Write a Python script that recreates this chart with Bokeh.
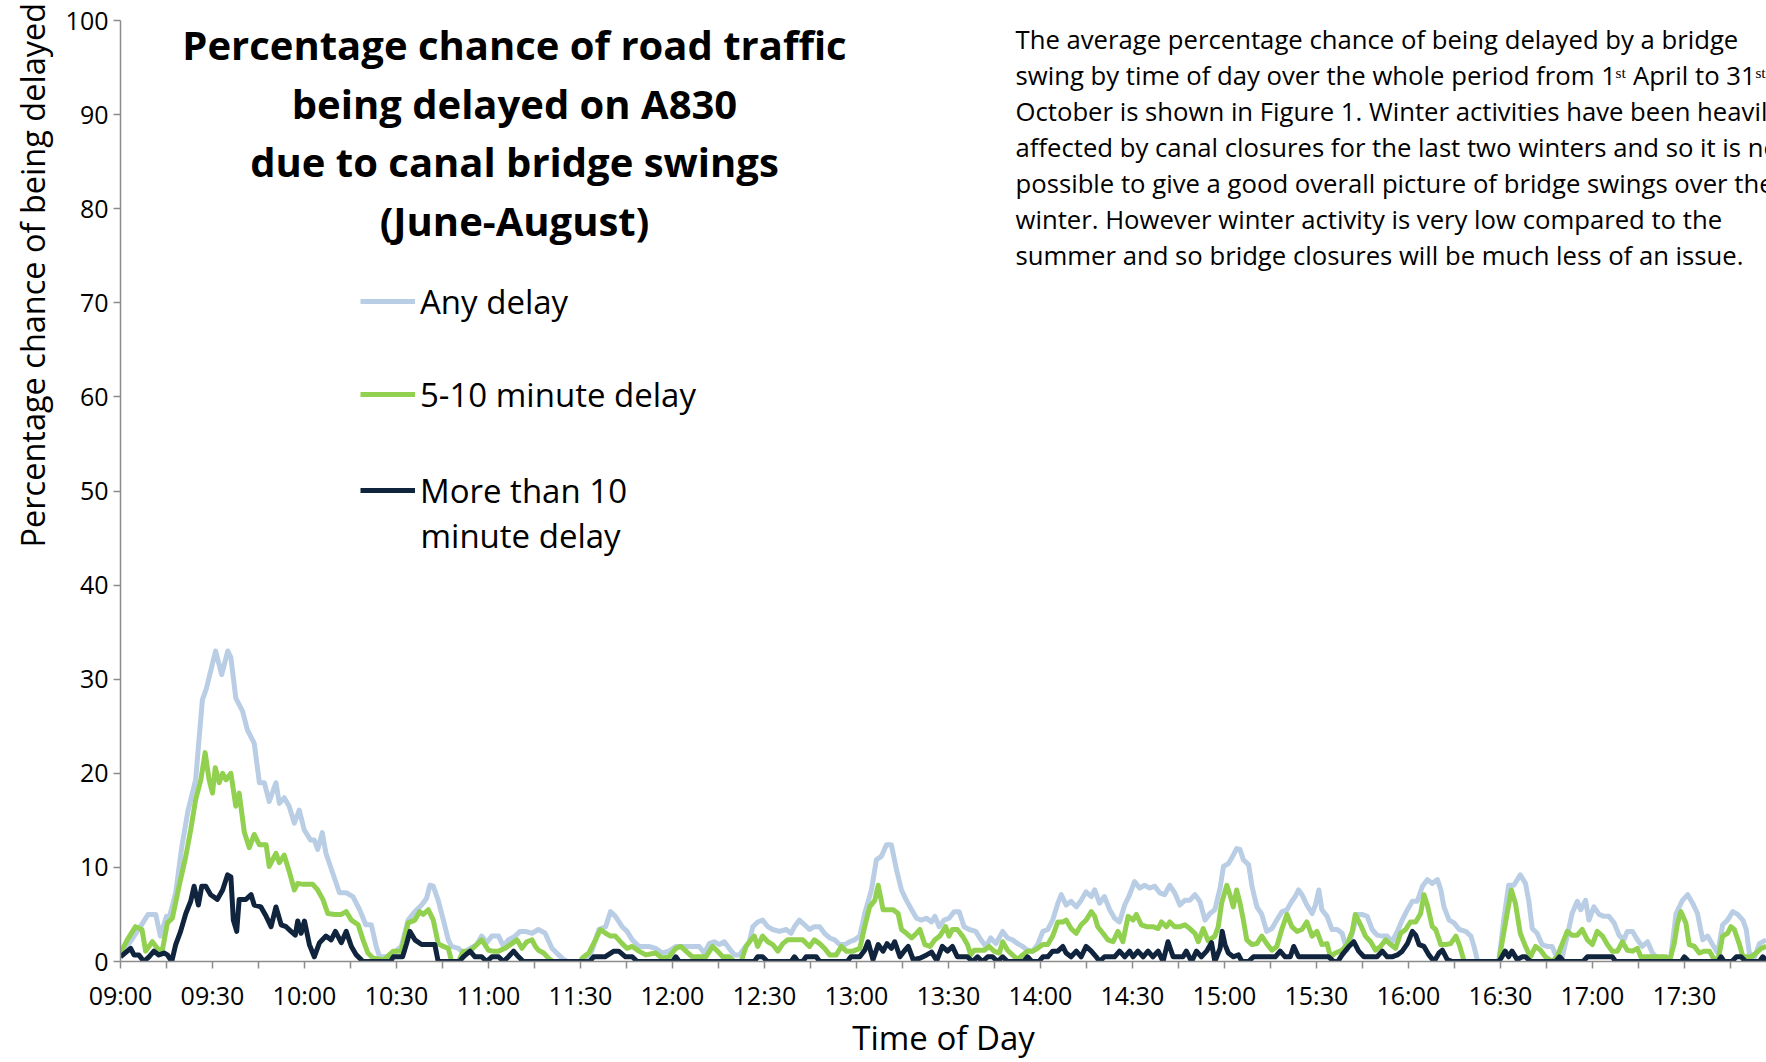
import math
from bokeh.plotting import figure
from bokeh.models import FixedTicker, Label, Legend, LegendItem, Title
from bokeh.embed import file_html
from bokeh.resources import INLINE

# ---------------- data (minutes after 09:00, percent) ----------------
any_t = [0, 3, 6.5, 9, 11.5, 13, 15, 16, 18, 20,
         22, 24.5, 26.7, 28, 29.5, 31, 33, 35, 36, 37.6,
         39.8, 41.4, 43.6, 45.3, 46.9, 48.5, 50.7, 51.8, 53.4, 55,
         56.7, 58.3, 59.9, 62, 63.2, 64.3, 65.8, 67, 69.2, 71.4,
         73.6, 75.8, 78, 80, 81.8, 83.4, 84.5, 86.7, 88.4, 91.6,
         93.8, 96, 98.2, 99.8, 100.9, 102, 103.6, 105.3, 106.9, 108,
         110.2, 111.8, 114, 116.2, 117.8, 119.4, 121.1, 123.3, 124.9, 126.5,
         128.7, 130.3, 132, 134.2, 136.3, 138.5, 140.7, 142.9, 144.5, 146,
         152, 153.8, 156, 158.2, 159.8, 161.4, 163.6, 165.2, 166.9, 169.1,
         172.3, 174.5, 176.7, 178.9, 181.1, 183.3, 186.5, 188.7, 190.4, 192,
         193.6, 195.3, 196.9, 198.5, 200.2, 201.8, 203.4, 205.1, 206.2, 207.8,
         209.4, 211.1, 212.7, 214.9, 217.1, 218.7, 219.8, 221.4, 223.1, 224.7,
         226.3, 228, 229.6, 231.3, 232.9, 234.5, 236.2, 237.8, 239.4, 241.1,
         242.7, 244.9, 246.5, 248.2, 249.8, 251.4, 253.1, 254.7, 256.3, 258,
         259.6, 261.2, 262.9, 264.5, 265.6, 267, 268.6, 270.2, 271.9, 273.5,
         275.1, 276.8, 278.9, 280.6, 282.2, 283.8, 285.5, 287.7, 289.3, 290.9,
         292.6, 294.2, 295.8, 297.5, 299.1, 300.8, 302.4, 304, 305.7, 306.8,
         308.4, 310, 311.7, 313.3, 314.9, 316.6, 317.7, 319.3, 320.9, 322.6,
         324.2, 325.8, 327.5, 329.1, 330.7, 332.4, 334, 335.6, 337.3, 338.9,
         340.5, 342.2, 343.8, 345.5, 347.1, 348.7, 350.4, 352, 353.7, 355.3,
         356.9, 358.6, 359.7, 361.3, 362.9, 364, 365.1, 366.2, 367.9, 369,
         370.6, 372.2, 373.8, 375.5, 377.1, 378.8, 380.4, 382, 383.1, 384.2,
         385.3, 386.9, 388.6, 389.7, 390.8, 391.8, 393.5, 395.1, 396.8, 398.4,
         400, 401.7, 403.3, 404.9, 406.6, 408.2, 409.8, 411.5, 413.1, 414.7,
         416.4, 418, 419.7, 421.3, 422.9, 424.6, 426.2, 427.8, 429.5, 430.6,
         431.6, 433.3, 434.9, 436.6, 438.7, 440.4, 441.5, 442.6, 449.5, 451.1,
         452.7, 454.4, 456.5, 458.2, 459.3, 460.4, 462, 463.6, 465.3, 466.9,
         468.5, 470.2, 471.8, 473.4, 475.1, 476.2, 477.8, 478.9, 480.5, 482.2,
         483.8, 485.4, 487.1, 488.7, 490.3, 491.4, 493.1, 494.7, 496.3, 498,
         499.6, 501.3, 502.9, 504, 505.6, 507.3, 509.4, 511.1, 512.7, 514.3,
         516, 517.6, 519.2, 520.9, 522.5, 524.1, 525.8, 527.4, 529.1, 530.2,
         531.2, 532.9, 534.5, 536.7]
any_v = [1.1, 2.0, 3.7, 5.0, 5.0, 2.7, 4.8, 4.8, 7.3, 12.2,
         16.0, 19.3, 27.8, 29.0, 31.0, 33.0, 30.5, 33.0, 32.3, 28.0,
         26.6, 24.6, 23.2, 19.0, 19.0, 17.0, 19.0, 16.8, 17.4, 16.5,
         14.7, 16.1, 14.0, 12.9, 12.9, 11.9, 13.7, 11.5, 9.4, 7.3,
         7.3, 6.9, 5.5, 3.9, 3.9, 1.6, 0.5, 0.5, 0.7, 1.6,
         4.4, 5.3, 6.0, 6.7, 8.1, 8.0, 6.5, 4.4, 2.3, 1.6,
         1.4, 0.9, 1.4, 1.8, 2.7, 2.0, 2.7, 2.7, 1.6, 2.3,
         2.7, 3.2, 3.2, 3.0, 3.4, 3.0, 1.4, 0.7, 0.2, 0.0,
         0.0, 1.2, 3.4, 3.7, 5.3, 4.8, 3.7, 3.2, 2.3, 1.6,
         1.6, 1.4, 0.9, 1.1, 1.6, 1.6, 1.6, 1.6, 0.9, 1.9,
         2.1, 1.8, 2.1, 1.4, 0.7, 0.7, 1.4, 2.1, 3.7, 4.2,
         4.4, 3.7, 3.4, 3.2, 3.4, 3.0, 3.7, 4.4, 3.9, 3.4,
         3.7, 3.7, 3.0, 2.5, 2.3, 1.8, 1.8, 2.1, 2.3, 2.7,
         5.1, 7.6, 10.8, 11.2, 12.4, 12.4, 9.7, 7.6, 6.5, 5.5,
         4.6, 4.4, 4.6, 4.2, 4.8, 3.7, 4.4, 4.6, 5.3, 5.3,
         3.7, 3.4, 3.2, 2.3, 1.6, 2.5, 1.9, 3.2, 2.5, 2.3,
         1.9, 1.6, 1.2, 1.1, 1.8, 3.2, 3.4, 4.4, 6.2, 7.1,
         6.0, 6.4, 5.8, 6.5, 7.4, 6.9, 7.6, 6.2, 6.9, 5.5,
         4.6, 4.2, 6.0, 7.1, 8.5, 7.8, 8.1, 7.8, 8.0, 7.3,
         7.1, 8.1, 7.3, 6.0, 6.5, 6.5, 7.1, 6.4, 4.4, 5.1,
         5.5, 7.8, 10.1, 10.4, 11.3, 12.0, 11.9, 10.8, 10.3, 8.0,
         5.8, 5.0, 3.2, 3.5, 4.4, 5.3, 5.5, 6.4, 6.9, 7.6,
         7.1, 6.0, 5.1, 6.0, 7.6, 5.5, 4.8, 3.4, 3.4, 3.0,
         1.2, 3.0, 5.0, 5.0, 4.8, 3.4, 2.8, 2.7, 2.7, 2.1,
         3.2, 4.4, 5.5, 6.4, 6.4, 8.0, 8.7, 8.3, 8.7, 7.6,
         5.8, 4.4, 4.1, 3.4, 3.2, 2.7, 1.5, 0.0, 0.0, 4.4,
         8.1, 8.1, 9.2, 8.3, 6.4, 3.5, 3.0, 1.8, 1.6, 1.6,
         0.35, 0.5, 2.7, 5.1, 6.4, 5.5, 6.5, 4.4, 5.8, 5.0,
         4.8, 4.8, 4.1, 2.8, 2.3, 3.2, 3.2, 2.3, 1.6, 2.1,
         0.9, 0.35, 0.5, 0.0, 0.5, 5.1, 6.5, 7.1, 6.2, 5.1,
         2.3, 2.7, 1.8, 0.9, 3.9, 4.4, 5.3, 5.0, 4.4, 3.4,
         0.9, 0.5, 1.9, 2.3]

mid_t = [0, 2.2, 4.9, 7, 8.2, 10.4, 12, 13.6, 15.3, 16.9,
         19.1, 21.3, 22.9, 24.5, 26.2, 27.6, 28.9, 30, 30.9, 32.2,
         33.3, 34.4, 36, 37.6, 38.7, 40.4, 42, 43.6, 45.3, 47.5,
         48.5, 50.7, 51.8, 53.4, 55, 56.7, 57.8, 59.5, 61.1, 62.7,
         64.3, 66, 67.6, 69.8, 72, 73.6, 75.3, 77.5, 79.1, 80.7,
         82.4, 86, 89, 91.6, 93.8, 96, 97.6, 98.7, 100.4, 102,
         103.6, 105.3, 106.9, 108, 110.2, 111.8, 114, 116.2, 117.8, 120,
         121.6, 123.3, 125.4, 127.6, 129.3, 130.9, 132.5, 134.2, 135.3, 136.3,
         138, 139.6, 141, 150, 150.5, 152.7, 154.9, 156.5, 158.2, 159.8,
         161.4, 163.6, 165.2, 166.9, 169.1, 171.3, 174.5, 176.7, 178.9, 181.1,
         182.7, 184.4, 186.5, 188.7, 190.9, 193.1, 194.7, 196.4, 198.5, 200.2,
         202.4, 204, 205.6, 206.7, 207.8, 209.4, 211.1, 212.7, 214.4, 216,
         217.6, 220.3, 222.5, 224.7, 226.3, 228, 229.6, 231.3, 233.4, 235.1,
         236.7, 238.9, 241.1, 242.7, 244.3, 246, 247.1, 248.7, 250.3, 252,
         253.6, 254.7, 256.3, 258, 259.6, 260.7, 262.3, 264, 265.6, 267.2,
         269.1, 270.2, 271.3, 272.9, 274.6, 276.2, 277.3, 278.4, 280, 281.7,
         283.3, 284.9, 286.6, 287.7, 289.3, 290.9, 292.6, 294.2, 295.8, 297.5,
         299.1, 300.8, 302.4, 304, 305.7, 307.3, 308.4, 310, 311.7, 313.3,
         314.9, 316.6, 317.7, 318.7, 320.4, 322, 323.7, 325.3, 326.9, 328.6,
         330.2, 331.3, 332.9, 334.6, 336.7, 338.4, 339.5, 341.1, 342.2, 343.8,
         345.5, 347.1, 348.7, 350.4, 351.5, 353.1, 354.7, 356.9, 358, 359.1,
         360.8, 361.8, 362.9, 364, 365.1, 366.2, 367.3, 369, 370.6, 372.2,
         373.8, 375.5, 377.1, 378.8, 380.4, 382, 383.7, 385.3, 386.9, 388.6,
         390.2, 391.8, 393.5, 394.6, 396.2, 398.4, 400, 401.7, 402.7, 404.4,
         406, 407.7, 409.3, 410.9, 412.6, 414.2, 415.8, 417.5, 419.1, 420.7,
         422.4, 424, 425.1, 426.2, 427.8, 428.9, 430.6, 432.2, 433.8, 435.5,
         436.6, 438.2, 449.5, 450.5, 452.2, 453.6, 454.9, 456.5, 458.2, 459.8,
         461.5, 463.1, 464.7, 466.9, 468.5, 470.2, 471.8, 473.4, 475.1, 476.7,
         478.4, 480, 481.6, 483.3, 484.9, 486.5, 488.2, 489.8, 491.4, 493.1,
         494.7, 495.8, 504, 505.1, 506.7, 507.8, 508.9, 510.5, 511.6, 513.3,
         514.9, 516.5, 518.2, 519.2, 520.9, 522.5, 524.1, 525.2, 526.3, 528,
         529.1, 532, 535.1, 536.7]
mid_v = [0.9, 2.3, 3.7, 3.4, 1.1, 2.1, 1.4, 1.1, 4.1, 4.6,
         8.0, 11.2, 14.0, 17.2, 19.3, 22.2, 19.3, 17.9, 20.6, 19.0,
         20.0, 19.3, 20.0, 16.5, 17.9, 13.7, 12.1, 13.5, 12.4, 12.4,
         10.1, 11.5, 10.5, 11.3, 9.6, 7.6, 8.3, 8.2, 8.2, 8.2,
         7.6, 6.6, 5.1, 5.0, 5.0, 5.3, 4.4, 3.9, 2.3, 0.9,
         0.35, 0.2, 1.1, 1.1, 4.1, 4.4, 5.3, 5.0, 5.5, 4.4,
         1.9, 1.6, 1.4, 0.0, 0.0, 1.1, 1.1, 1.8, 2.3, 1.2,
         1.1, 1.1, 1.4, 1.9, 2.3, 1.4, 2.1, 2.3, 1.6, 1.2,
         0.9, 0.35, 0.0, 0.0, 0.35, 0.9, 2.3, 3.4, 3.0, 2.7,
         2.7, 1.9, 1.4, 1.6, 1.1, 0.7, 0.9, 0.35, 0.5, 1.4,
         1.6, 1.1, 0.5, 0.5, 0.5, 1.6, 1.1, 0.5, 0.5, 0.0,
         0.0, 1.6, 2.3, 2.7, 1.6, 2.7, 2.1, 1.8, 1.1, 1.9,
         2.3, 2.3, 2.3, 1.6, 2.3, 1.9, 1.4, 0.7, 0.7, 1.6,
         1.1, 1.1, 1.4, 3.7, 5.8, 6.5, 8.1, 5.5, 5.5, 5.5,
         5.1, 3.4, 3.0, 2.5, 3.0, 3.4, 1.8, 1.6, 2.3, 2.7,
         3.7, 2.7, 3.4, 3.4, 2.7, 1.8, 0.7, 1.2, 1.2, 1.2,
         1.6, 1.1, 0.9, 2.1, 1.2, 0.7, 0.2, 0.7, 1.1, 1.1,
         1.4, 1.8, 1.8, 2.7, 4.2, 4.2, 4.4, 3.5, 3.0, 3.9,
         4.4, 5.3, 4.8, 3.7, 3.0, 2.3, 2.1, 3.2, 2.1, 4.8,
         4.4, 5.0, 3.9, 3.7, 3.7, 3.5, 4.2, 3.7, 4.2, 3.7,
         3.7, 3.9, 3.5, 3.0, 2.1, 3.5, 2.2, 2.7, 3.7, 6.2,
         8.1, 7.1, 5.8, 7.6, 6.2, 4.4, 2.3, 1.8, 1.9, 2.7,
         1.9, 1.2, 1.6, 3.5, 5.0, 3.7, 3.2, 3.4, 4.2, 2.7,
         3.2, 1.8, 1.9, 0.5, 0.9, 1.2, 1.8, 3.2, 5.0, 3.9,
         2.7, 2.1, 1.2, 1.6, 2.3, 1.8, 1.4, 3.0, 3.4, 4.2,
         4.2, 5.1, 7.1, 6.0, 3.7, 3.4, 1.8, 1.8, 1.9, 2.7,
         1.8, 0.0, 0.0, 1.9, 5.1, 7.6, 6.2, 3.0, 1.6, 0.5,
         1.6, 1.2, 0.5, 0.0, 0.5, 1.9, 3.2, 2.8, 2.8, 3.4,
         2.3, 1.8, 3.2, 2.7, 1.8, 1.1, 1.1, 2.1, 1.2, 1.1,
         1.4, 0.5, 0.5, 0.0, 1.9, 4.1, 5.3, 4.1, 1.8, 1.6,
         0.9, 1.1, 1.1, 0.5, 0.0, 2.7, 3.0, 3.7, 3.4, 1.8,
         0.5, 0.5, 1.4, 1.6]

long_t = [0, 3.3, 4.4, 6, 7.6, 9.3, 10.9, 12.5, 14.2, 15.3,
          16.7, 18, 19.6, 21.3, 22.9, 24, 25.4, 26.5, 27.8, 29.4,
          31.6, 33.3, 34.9, 36, 36.8, 37.9, 38.7, 40.9, 42.6, 43.6,
          45.8, 47.5, 49.1, 50.7, 52.4, 54, 55.6, 57, 57.8, 58.9,
          60, 61.6, 63.2, 64.9, 67, 68.7, 70.1, 72, 73.6, 75.3,
          76.9, 79.1, 88, 89, 92, 93.3, 94.4, 96, 98.2, 102.5,
          103.6, 110.5, 111.8, 114, 115.6, 117.8, 119.4, 121.1, 123.3, 124.9,
          126.5, 128.2, 129.8, 131.4, 153, 154.3, 158, 160.9, 162.5, 164.7,
          166.9, 168.5, 180, 181.1, 182.2, 206.7, 207.8, 209.4, 211, 218.7,
          219.8, 221, 222.5, 223.6, 226.9, 228, 237, 238.2, 241.1, 242.7,
          243.8, 245.4, 247.1, 248.7, 250, 251.4, 252.5, 254.2, 255.8, 256.9,
          258.5, 260.7, 262.9, 264.5, 266.2, 268, 269.7, 271.3, 272.9, 276.2,
          277.9, 279.5, 281.1, 282.8, 284.4, 286, 287.7, 289.3, 294.5, 295.8,
          297.2, 299.5, 300.8, 302.4, 304, 305.7, 307.3, 308.4, 310, 311.7,
          313.3, 314.9, 316.6, 318.2, 319.3, 320.9, 324.2, 325.8, 327.5, 329.1,
          330.2, 331.8, 333.5, 335.1, 336.7, 338.4, 340, 341.6, 343.3, 346.5,
          347.6, 349.3, 350.9, 352.5, 354.2, 355.8, 356.9, 358.6, 359.3, 360.2,
          361.3, 362.9, 364.6, 365.7, 367.9, 369.5, 376.6, 378.2, 379.8, 381.5,
          382.6, 384.2, 394, 395.7, 397, 398.4, 400.6, 402.2, 403.8, 405.5,
          409.8, 411.5, 413.1, 414.7, 416.4, 418, 419.7, 421.3, 422.4, 423.5,
          425.1, 426.7, 428.4, 430, 431.1, 432.7, 434.4, 449.5, 450.5, 451.6,
          452.7, 453.8, 455.5, 457.1, 458.2, 459.8, 468, 469.3, 470.7, 477,
          478.4, 486.5, 487.6, 509, 510, 511.5, 521, 522, 523, 525.5,
          527, 528.5, 530, 534.5, 535.6, 537]
long_v = [0.5, 1.4, 0.7, 0.7, 0.0, 0.5, 1.1, 0.7, 0.9, 0.7,
          0.0, 1.8, 3.2, 5.1, 6.4, 8.0, 6.0, 8.0, 8.0, 7.1,
          6.6, 7.6, 9.2, 9.0, 4.4, 3.2, 6.6, 6.6, 7.1, 6.0,
          5.8, 4.8, 3.7, 5.8, 3.9, 3.7, 3.2, 2.8, 4.3, 3.0,
          4.3, 1.8, 0.5, 2.0, 2.7, 2.3, 3.2, 2.0, 3.2, 1.6,
          0.7, 0.0, 0.0, 0.5, 0.5, 1.9, 3.2, 2.3, 1.8, 1.8,
          0.0, 0.0, 0.5, 1.1, 0.5, 0.5, 0.0, 0.5, 0.5, 0.0,
          0.5, 1.1, 0.5, 0.0, 0.0, 0.5, 0.5, 1.1, 1.1, 0.5,
          0.5, 0.0, 0.0, 0.5, 0.0, 0.0, 0.5, 0.5, 0.0, 0.0,
          0.5, 0.0, 0.0, 0.5, 0.5, 0.0, 0.0, 0.5, 0.5, 1.2,
          2.1, 0.2, 1.8, 1.1, 1.9, 1.4, 2.1, 0.5, 1.2, 1.6,
          0.2, 0.35, 0.7, 1.0, 0.1, 1.6, 1.1, 1.6, 0.5, 0.5,
          0.0, 0.5, 0.0, 0.5, 0.5, 0.0, 0.5, 0.0, 0.0, 0.5,
          0.0, 0.0, 0.5, 0.5, 1.1, 1.1, 1.6, 0.9, 0.5, 1.1,
          0.5, 1.6, 1.1, 0.5, 0.0, 0.5, 0.5, 1.1, 0.5, 1.1,
          0.5, 1.1, 0.5, 1.1, 0.5, 1.1, 0.0, 2.1, 0.5, 0.5,
          1.1, 0.0, 1.1, 0.5, 1.1, 2.0, 0.0, 1.4, 3.2, 1.8,
          0.9, 0.5, 0.7, 0.0, 0.0, 0.5, 0.5, 1.1, 0.5, 0.5,
          1.6, 0.5, 0.5, 0.0, 0.0, 0.7, 1.6, 2.1, 1.1, 0.5,
          0.5, 1.1, 0.5, 0.5, 0.7, 1.1, 1.9, 3.2, 2.8, 1.8,
          1.6, 0.7, 0.0, 0.9, 1.2, 0.2, 0.0, 0.0, 0.5, 1.1,
          0.5, 1.1, 0.2, 0.5, 0.5, 0.0, 0.0, 0.5, 0.0, 0.0,
          0.5, 0.5, 0.0, 0.0, 0.5, 0.0, 0.0, 0.5, 0.0, 0.0,
          0.5, 0.5, 0.0, 0.0, 0.5, 0.0]

assert len(any_t) == len(any_v)
assert len(mid_t) == len(mid_v)
assert len(long_t) == len(long_v)

series_names = ["Any delay", "5-10 minute delay", "More than 10"]
series_colors = ["#B9CDE5", "#92D050", "#10243E"]
time_labels = ["09:00", "09:30", "10:00", "10:30", "11:00", "11:30", "12:00",
               "12:30", "13:00", "13:30", "14:00", "14:30", "15:00", "15:30",
               "16:00", "16:30", "17:00", "17:30"]
y_ticks = [0, 10, 20, 30, 40, 50, 60, 70, 80, 90, 100]

title_lines = ["Percentage chance of road traffic",
               "being delayed on A830",
               "due to canal bridge swings",
               "(June-August)"]
text_lines = ["The average percentage chance of being delayed by a bridge",
              "swing by time of day over the whole period from 1\u02e2\u1d57 April to 31\u02e2\u1d57",
              "October is shown in Figure 1. Winter activities have been heavily",
              "affected by canal closures for the last two winters and so it is not",
              "possible to give a good overall picture of bridge swings over the",
              "winter. However winter activity is very low compared to the",
              "summer and so bridge closures will be much less of an issue."]

FONT = "Open Sans"
AXIS_GREY = "#8C8C8C"

# ---------------- figure ----------------
p = figure(width=1766, height=1062, output_backend="svg", toolbar_location=None,
           x_range=(0, 536.8), y_range=(0, 100),
           min_border_left=120, min_border_right=0, min_border_top=20,
           min_border_bottom=100)
p.outline_line_color = None
p.grid.visible = False
p.background_fill_color = "white"
p.border_fill_color = "white"

# x axis
tick_minutes = []
overrides = {}
for i, lab in enumerate(time_labels):
    tick_minutes.append(30 * i)
    overrides[30 * i] = lab
    tick_minutes.append(30 * i + 15)
    overrides[30 * i + 15] = ""
xa = p.xaxis[0]
xa.ticker = FixedTicker(ticks=tick_minutes)
xa.major_label_overrides = overrides
xa.axis_label = "Time of Day"
xa.axis_label_text_font = FONT
xa.axis_label_text_font_size = "33px"
xa.axis_label_text_font_style = "normal"
xa.axis_label_text_color = "black"
xa.axis_label_text_line_height = 1.0
xa.axis_label_standoff = 0
ya = p.yaxis[0]
ya.ticker = FixedTicker(ticks=y_ticks)
for ax in (xa, ya):
    ax.axis_line_color = AXIS_GREY
    ax.axis_line_width = 1.5
    ax.major_tick_line_color = AXIS_GREY
    ax.major_tick_line_width = 1.5
    ax.major_tick_in = 0
    ax.major_tick_out = 7
    ax.minor_tick_line_color = None
    ax.major_label_text_font = FONT
    ax.major_label_text_font_size = "25px"
    ax.major_label_text_color = "black"
    ax.major_label_text_line_height = 1.0
xa.major_label_standoff = 9
ya.major_label_standoff = 5

# y axis title (left panel, shifted up as in the reference)
p.add_layout(Title(text="Percentage chance of being delayed", align="left", offset=414,
                   text_font=FONT, text_font_size="32.5px", text_font_style="normal",
                   text_color="black", standoff=15), "left")

# lines
r_any = p.line(any_t, any_v, line_color=series_colors[0], line_width=5, line_join="round")
r_mid = p.line(mid_t, mid_v, line_color=series_colors[1], line_width=5, line_join="round")
r_long = p.line(long_t, long_v, line_color=series_colors[2], line_width=5, line_join="round")

# legends (one per entry so each sits where the reference has it)
leg_x = 240
leg_centres = [660, 567, 471]
for r, name, cy in zip([r_any, r_mid, r_long], series_names, leg_centres):
    lg = Legend(items=[LegendItem(label=name, renderers=[r])], location=(leg_x, cy - 25),
                padding=0, margin=0, spacing=0, glyph_width=55, glyph_height=50,
                label_height=50, label_standoff=5, label_text_font=FONT,
                label_text_font_size="33px", label_text_color="black",
                label_text_baseline="middle",
                background_fill_alpha=0, border_line_alpha=0)
    p.add_layout(lg)
p.add_layout(Label(x=300, y=426, x_units="screen", y_units="screen", text="minute delay",
                   text_font=FONT, text_font_size="33px", text_color="black",
                   text_align="left", text_baseline="middle"))

# chart title
for i, line in enumerate(title_lines):
    p.add_layout(Label(x=394, y=917 - 58.6 * i, x_units="screen", y_units="screen",
                       text=line, text_font=FONT, text_font_size="40px",
                       text_font_style="bold", text_color="black",
                       text_align="center", text_baseline="middle"))

# paragraph
for i, line in enumerate(text_lines):
    p.add_layout(Label(x=895, y=922.5 - 36.1 * i, x_units="screen", y_units="screen",
                       text=line, text_font=FONT, text_font_size="25.7px",
                       text_color="black", text_align="left", text_baseline="middle"))

open("out.html", "w").write(file_html(p, INLINE))
